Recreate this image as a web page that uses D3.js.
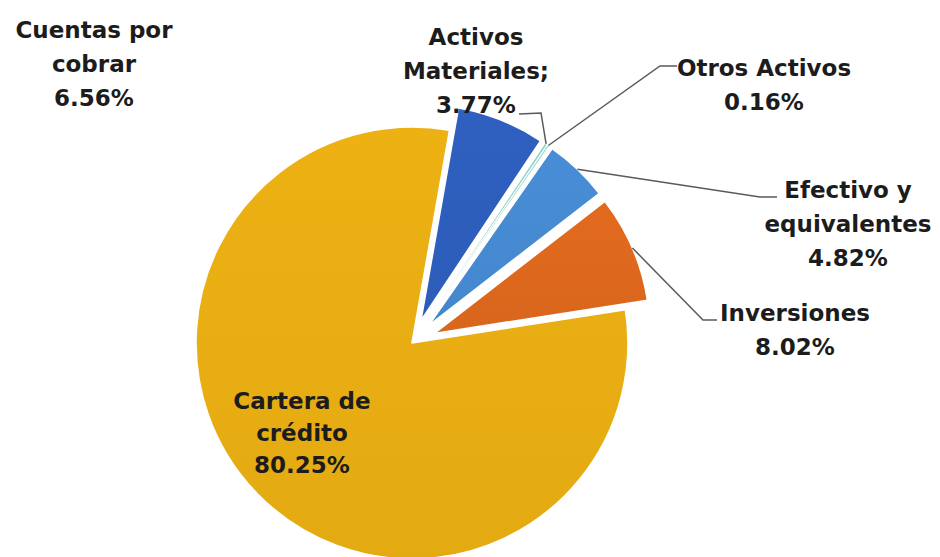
<!DOCTYPE html>
<html>
<head>
<meta charset="utf-8">
<script src="https://cdn.jsdelivr.net/npm/d3@7"></script>
<style>
  body { margin: 0; background: #fff; }
  svg { display: block; }
  .lbl { font-family: "DejaVu Sans", sans-serif; font-weight: bold; fill: #1c1c1c; }
</style>
</head>
<body>
<div id="chart"></div>
<script>
// slice order is clockwise, starting a little right of 12 o'clock
const categories = ["Cuentas por cobrar", "Activos Materiales", "Otros Activos", "Efectivo y equivalentes", "Inversiones", "Cartera de crédito"];
// slice sizes as drawn (the Activos Materiales wedge is only a sliver in the picture)
const shares = [6.56, 0.2, 0.16, 4.82, 8.02, 80.25];
// percentages as printed on the labels
const shareLabels = ["6.56%", "3.77%", "0.16%", "4.82%", "8.02%", "80.25%"];
const labelLines = [
  ["Cuentas por", "cobrar"],
  ["Activos", "Materiales;"],
  ["Otros Activos"],
  ["Efectivo y", "equivalentes"],
  ["Inversiones"],
  ["Cartera de", "crédito"]
];
const sliceColors = ["#2e5dbb", "#8ecfc4", "#a3d6cf", "#4689d0", "#dc671d", "#e6ac12"];

(() => {
  const W = 940, H = 557;
  const cx = 412, cy = 343, radius = 216, explode = 24;
  const startDeg = 10;

  const svg = d3.select("#chart")
    .append("svg")
    .attr("width", W)
    .attr("height", H);

  const defs = svg.append("defs");
  sliceColors.forEach((c, i) => {
    const g = defs.append("linearGradient")
      .attr("id", "grad" + i)
      .attr("x1", 0).attr("y1", 0).attr("x2", 0).attr("y2", 1);
    g.append("stop").attr("offset", "0%").attr("stop-color", d3.color(c).brighter(0.08));
    g.append("stop").attr("offset", "100%").attr("stop-color", d3.color(c).darker(0.04));
  });

  const data = categories.map((name, i) => ({ name, value: shares[i], i }));

  const pie = d3.pie()
    .sort(null)
    .value(d => d.value)
    .startAngle(startDeg * Math.PI / 180)
    .endAngle(startDeg * Math.PI / 180 + 2 * Math.PI);

  const arcs = pie(data);

  const arc = d3.arc().innerRadius(0).outerRadius(radius);

  const offset = d => {
    if (d.data.i === 5) return [0, 0];
    const mid = (d.startAngle + d.endAngle) / 2;
    return [explode * Math.sin(mid), -explode * Math.cos(mid)];
  };

  const g = svg.append("g").attr("transform", `translate(${cx},${cy})`);

  g.selectAll("path")
    .data(arcs)
    .enter()
    .append("path")
    .attr("d", arc)
    .attr("transform", d => `translate(${offset(d)[0]},${offset(d)[1]})`)
    .attr("fill", d => `url(#grad${d.data.i})`)
    .attr("stroke", "#fff")
    .attr("stroke-width", d => d.data.value < 1 ? 0.9 : 1.6)
    .attr("stroke-linejoin", "round");

  // outer edge point of a slice at its middle angle, in page coordinates
  const edgePoint = d => {
    const mid = (d.startAngle + d.endAngle) / 2;
    const o = offset(d);
    return [cx + o[0] + radius * Math.sin(mid), cy + o[1] - radius * Math.cos(mid)];
  };

  // label anchors (centre of the text block) and leader elbows
  const labelPos = [
    { x: 94, y: 30, leader: null },
    { x: 476, y: 37, leader: [[541, 113], [519, 114]] },
    { x: 764, y: 68, leader: [[660, 66], [677, 66]] },
    { x: 848, y: 190, leader: [[760, 197], [777, 197]] },
    { x: 795, y: 313, leader: [[703, 320], [717, 320]] },
    { x: 302, y: 401, leader: null }
  ];
  const lineStep = 34;

  const line = d3.line();
  arcs.forEach(d => {
    const p = labelPos[d.data.i];
    if (!p.leader) return;
    svg.append("path")
      .attr("d", line([edgePoint(d), ...p.leader]))
      .attr("fill", "none")
      .attr("stroke", "#5a5a5a")
      .attr("stroke-width", 1.5);
  });

  arcs.forEach(d => {
    const i = d.data.i;
    const p = labelPos[i];
    const step = i === 5 ? 32 : lineStep;
    const rows = labelLines[i].concat([shareLabels[i]]);
    const t = svg.append("text")
      .attr("class", "lbl")
      .attr("text-anchor", "middle")
      .attr("font-size", 23);
    rows.forEach((r, k) => {
      t.append("tspan")
        .attr("x", p.x)
        .attr("y", p.y + k * step)
        .attr("dy", "0.35em")
        .text(r);
    });
  });
})();
</script>
</body>
</html>
